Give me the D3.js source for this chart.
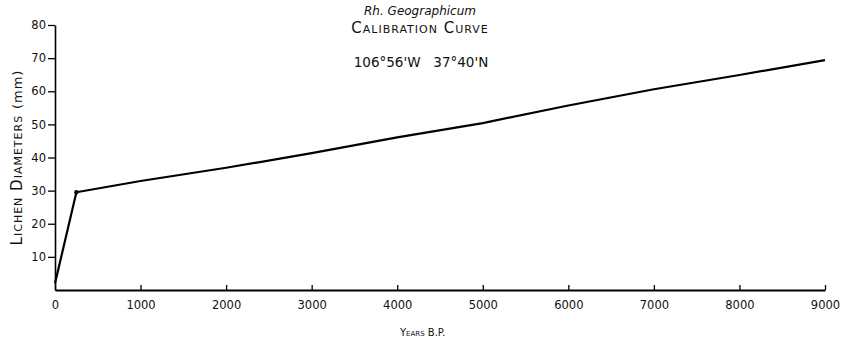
<!DOCTYPE html>
<html>
<head>
<meta charset="utf-8">
<script src="https://cdn.jsdelivr.net/npm/d3@7"></script>
<style>
  html, body { margin: 0; padding: 0; background: #fff; }
  #chart { width: 842px; height: 344px; }
  text { font-family: "DejaVu Sans", sans-serif; fill: #111; }
</style>
</head>
<body>
<div id="chart"></div>
<script>
// calibration curve
const years = [0, 250, 1000, 2000, 3000, 4000, 5000, 6000, 7000, 8000, 9000];
const diameters = [2, 29.5, 32.9, 36.9, 41.3, 46.1, 50.4, 55.7, 60.6, 64.9, 69.4];
const xTicks = [0, 1000, 2000, 3000, 4000, 5000, 6000, 7000, 8000, 9000];
const yTicks = [10, 20, 30, 40, 50, 60, 70, 80];
const titleLines = ['Rh. Geographicum', 'Calibration Curve'];
const coords = '106°56\'W   37°40\'N';

const chart = {};

chart.create = function(config){
  chart.config = config;
  this.config.margin = {top: 25, right: 17, bottom: 54, left: 55};
  this.config.width_svg = 842;
  this.config.height_svg = 344;
  this.config.svg = d3.select(`#${this.config.target}`)
                      .append('svg')
                      .attr('width', this.config.width_svg)
                      .attr('height', this.config.height_svg);
}

chart.update = function(){
  let margin = this.config.margin,
      width_svg = this.config.width_svg,
      height_svg = this.config.height_svg,
      svg = this.config.svg.append('g').attr('id', 'g_container');
  let data = years.map((d, i) => ({x: d, y: diameters[i]}));

  let xScale = d3.scaleLinear()
                .domain([0, 9000])
                .range([margin.left, width_svg - margin.right]);
  let yScale = d3.scaleLinear()
                .domain([0, 80])
                .range([height_svg - margin.bottom, margin.top]);

  let xAxis = g => g.attr('transform', `translate(0, ${height_svg - margin.bottom})`)
                    .call(d3.axisBottom(xScale).tickValues(xTicks).tickSize(-5).tickSizeOuter(0).tickFormat(d3.format('d')))
                    .call(g => g.select('.domain').attr('stroke-width', 2))
                    .call(g => g.selectAll('.tick line').attr('stroke-width', 1.3))
                    .call(g => g.selectAll('.tick text')
                                .attr('y', 11)
                                .attr('font-size', 11.5)
                                .attr('font-family', '"DejaVu Sans", sans-serif'));
  let yAxis = g => g.attr('transform', `translate(${margin.left}, 0)`)
                    .call(d3.axisLeft(yScale).tickValues(yTicks).tickSize(7).tickSizeOuter(0))
                    .call(g => g.select('.domain').attr('stroke-width', 1.6))
                    .call(g => g.selectAll('.tick line').attr('stroke-width', 1.3))
                    .call(g => g.selectAll('.tick text')
                                .attr('x', -9)
                                .attr('font-size', 11.5)
                                .attr('font-family', '"DejaVu Sans", sans-serif'));

  svg.append('g').attr('id', 'g_xAxis').call(xAxis);
  svg.append('g').attr('id', 'g_yAxis').call(yAxis);

  let line = d3.line()
              .x(d => xScale(d.x))
              .y(d => yScale(d.y));

  svg.append('path')
    .datum(data)
    .attr('fill', 'none')
    .attr('stroke', '#000')
    .attr('stroke-width', 2.2)
    .attr('stroke-linejoin', 'round')
    .attr('d', line);

  svg.append('circle')
    .attr('cx', xScale(years[1]))
    .attr('cy', yScale(diameters[1]))
    .attr('r', 2.2)
    .attr('fill', '#000');

  // axis titles
  let yTitle = svg.append('text')
    .attr('transform', `translate(22, ${yScale(40)}) rotate(-90)`)
    .attr('text-anchor', 'middle')
    .attr('font-size', 15)
    .style('letter-spacing', '1px');
  yTitle.append('tspan').style('font-variant', 'small-caps').text('Lichen Diameters ');
  yTitle.append('tspan').attr('font-size', 13).text('(mm)');

  svg.append('text')
    .attr('x', 400)
    .attr('y', 336)
    .attr('font-size', 10)
    .style('font-variant', 'small-caps')
    .text('Years B.P.');

  // title block
  svg.append('text')
    .attr('x', 420)
    .attr('y', 15)
    .attr('text-anchor', 'middle')
    .attr('font-size', 12)
    .attr('font-style', 'italic')
    .text(titleLines[0]);
  svg.append('text')
    .attr('x', 420)
    .attr('y', 33)
    .attr('text-anchor', 'middle')
    .attr('font-size', 15)
    .style('font-variant', 'small-caps')
    .style('letter-spacing', '1px')
    .text(titleLines[1]);
  svg.append('text')
    .attr('x', 421)
    .attr('y', 67)
    .attr('text-anchor', 'middle')
    .attr('font-size', 13.5)
    .attr('xml:space', 'preserve')
    .text(coords);
}

chart.create({target: 'chart'});
chart.update();
</script>
</body>
</html>
